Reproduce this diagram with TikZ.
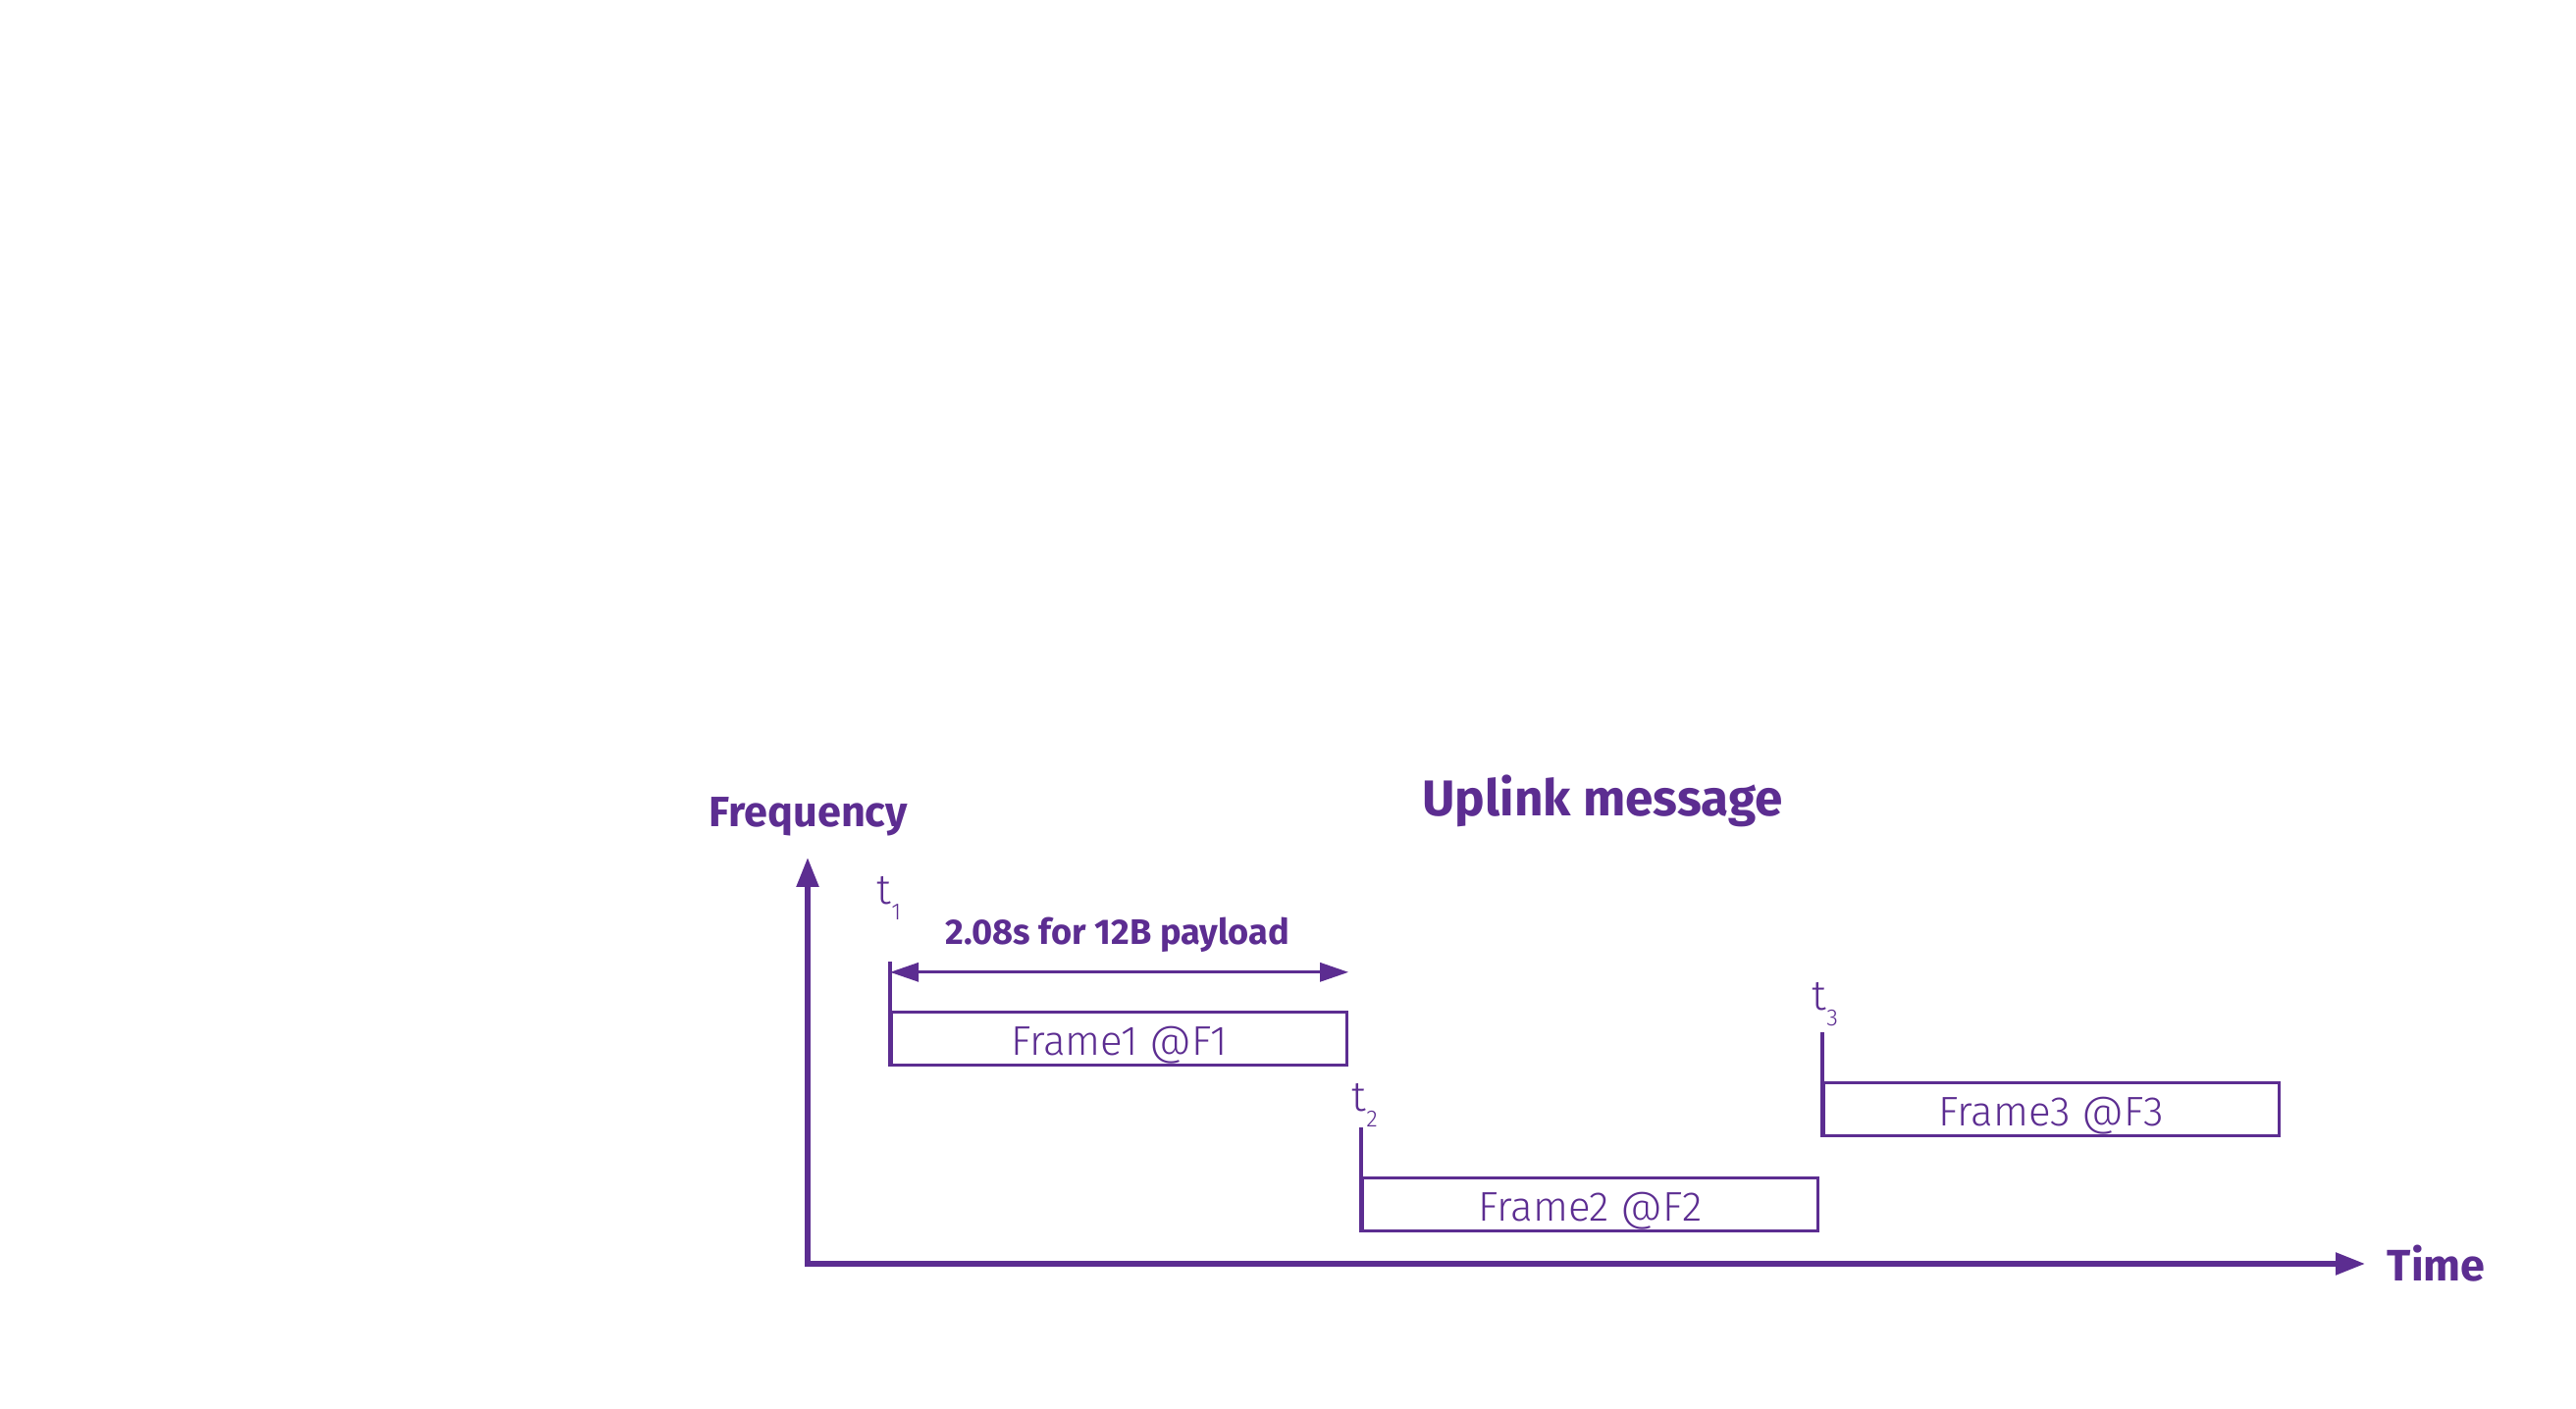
\documentclass[tikz,border=0pt]{standalone}
\usepackage{fontspec}
\setmainfont{Fira Sans}
\newfontfamily\lightfont{Fira Sans Light}
\usepackage{tikz}
\usetikzlibrary{arrows.meta,positioning}
\definecolor{uplinkpurple}{RGB}{92,45,145}
\newcommand{\tlabel}[1]{t\raisebox{-4.5pt}{\fontsize{6.8}{7}\selectfont #1}}

\begin{document}
\begin{tikzpicture}[
    axis/.style={draw=uplinkpurple, line width=1.5pt, line join=miter,
      {Triangle[length=3mm,width=2.2mm]}-{Triangle[length=3mm,width=2.2mm]}},
    span/.style={draw=uplinkpurple, line width=0.9pt,
      {Triangle[length=2.9mm,width=1.9mm]}-{Triangle[length=2.9mm,width=1.9mm]}},
    starttick/.style={draw=uplinkpurple, line width=1.2pt},
    framebox/.style={draw=uplinkpurple, line width=0.9pt, anchor=south west,
      minimum width=4.64cm, minimum height=0.54cm, inner sep=0pt,
      text height=0.44cm, text depth=0.10cm,
      text=uplinkpurple, font=\lightfont\fontsize{12}{14}\selectfont},
    tlab/.style={text=uplinkpurple, inner sep=0pt, anchor=base west,
      font=\lightfont\fontsize{12.2}{14}\selectfont},
    axislabel/.style={text=uplinkpurple, inner sep=0pt, font=\bfseries\fontsize{12.3}{14}\selectfont},
    titlelabel/.style={text=uplinkpurple, inner sep=0pt, font=\bfseries\fontsize{14.6}{18}\selectfont},
    spanlabel/.style={text=uplinkpurple, inner sep=0pt, font=\bfseries\fontsize{10.3}{12}\selectfont}
  ]
  \useasboundingbox (-8.23,-1.48) rectangle (18.02,12.88);

  % axes
  \coordinate (origin) at (0,0);
  \coordinate (freqtip) at (0,4.14);
  \coordinate (timetip) at (15.87,0);
  \draw[axis] (freqtip) -- (origin) -- (timetip);
  \node[axislabel, anchor=base] (freq) at (0.01,4.45) {Frequency};
  \node[axislabel, anchor=base west, font=\bfseries\fontsize{12.8}{14}\selectfont] (time) at (16.09,-0.18) {Time};
  \node[titlelabel, anchor=base] (title) at (8.10,4.56) {Uplink message};

  % frames
  \node[framebox] (frame1) at (0.84,2.01) {Frame1 @F1};
  \node[framebox] (frame2) at (5.64,0.32) {Frame2 @F2};
  \node[framebox] (frame3) at (10.34,1.29) {Frame3 @F3};
  \foreach \i in {1,2,3} {
    \coordinate[above=0.5cm of frame\i.north west] (top\i);
    \draw[starttick] (frame\i.south west) -- (top\i);
  }

  % start times
  \node[tlab] (t1) at (0.70,3.66) {\tlabel{1}};
  \node[tlab] (t2) at (5.54,1.55) {\tlabel{2}};
  \node[tlab] (t3) at (10.23,2.58) {\tlabel{3}};

  % duration of one frame
  \coordinate[above=0.39cm of frame1.north west] (spanstart);
  \coordinate[above=0.39cm of frame1.north east] (spanend);
  \draw[span] (spanstart) -- (spanend);
  \node[spanlabel, anchor=base] (duration) at (3.16,3.25) {2.08s for 12B payload};
\end{tikzpicture}
\end{document}
